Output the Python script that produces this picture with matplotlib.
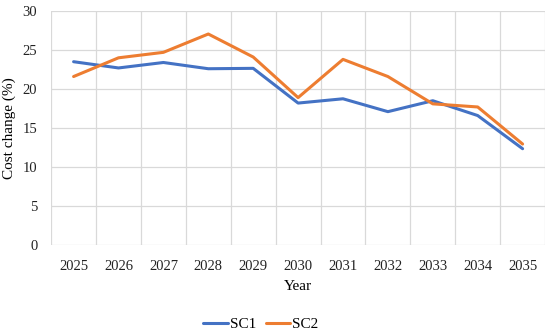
import numpy as np
import matplotlib.pyplot as plt

# data
years = ['2025', '2026', '2027', '2028', '2029', '2030', '2031', '2032', '2033', '2034', '2035']
sc1 = [23.5, 22.7, 23.4, 22.6, 22.65, 18.2, 18.75, 17.1, 18.5, 16.6, 12.35]
sc2 = [21.6, 24.0, 24.7, 27.05, 24.1, 18.9, 23.8, 21.6, 18.1, 17.7, 12.95]

plt.rcParams['font.family'] = ['Liberation Serif', 'DejaVu Serif']

fig = plt.figure(figsize=(5.5, 3.33), dpi=100)
ax = fig.add_axes([0.093, 0.264, 0.898, 0.703])

x = np.arange(len(years))
ax.plot(x, sc1, color='#4472C4', lw=2.2, label='SC1', solid_capstyle='round')
ax.plot(x, sc2, color='#ED7D31', lw=2.2, label='SC2', solid_capstyle='round')

ax.set_xlim(-0.5, len(years) - 0.5)
ax.set_ylim(0, 30)
ax.set_yticks(range(0, 31, 5))
ax.set_xticks(x)
ax.set_xticklabels(years)
# vertical grid at category boundaries
for b in np.arange(-0.5, len(years), 1.0):
    ax.axvline(b, color='#d9d9d9', lw=0.9, zorder=0)
ax.yaxis.grid(True, color='#d9d9d9', lw=0.9)
ax.set_axisbelow(True)
for s in ax.spines.values():
    s.set_visible(False)
ax.tick_params(length=0, labelsize=10.5, colors='#222222')
ax.tick_params(axis='x', pad=11)
ax.tick_params(axis='y', pad=10)

ax.set_xlabel('Year', fontsize=11, labelpad=5)
ax.set_ylabel('Cost change (%)', fontsize=11, labelpad=5)

ax.legend(loc='upper center', bbox_to_anchor=(0.425, -0.25), ncol=2, frameon=False,
          fontsize=11, handlelength=1.6, handletextpad=0.15, columnspacing=0.6)

fig.savefig('out.png', dpi=100)
